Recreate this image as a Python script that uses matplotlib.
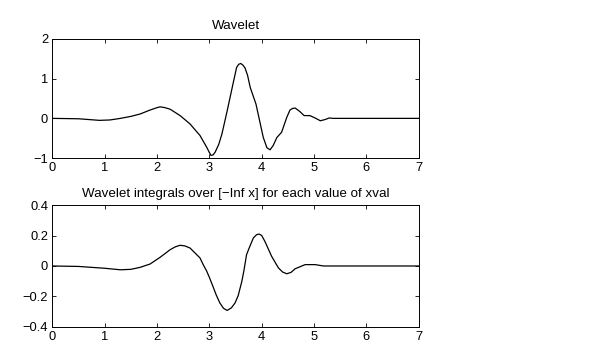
import matplotlib
matplotlib.use("Agg")
from matplotlib import pyplot as plt

# wavelet psi
psi_x = [0.0, 0.5, 0.9, 1.1, 1.3, 1.5, 1.676, 1.867, 2.0, 2.058, 2.15, 2.25, 2.44, 2.63, 2.82,
         2.95, 3.0, 3.03, 3.07, 3.11, 3.18, 3.24, 3.34, 3.45, 3.52, 3.56, 3.60, 3.64, 3.68,
         3.73, 3.78, 3.89, 3.96, 4.03, 4.10, 4.16, 4.22, 4.29, 4.38, 4.48, 4.54, 4.59, 4.64,
         4.73, 4.81, 4.92, 5.02, 5.12, 5.21, 5.29, 5.37, 7.0]
psi_y = [0.0, -0.01, -0.05, -0.04, 0.0, 0.05, 0.11, 0.21, 0.27, 0.29, 0.27, 0.23, 0.07, -0.14, -0.43,
         -0.73, -0.86, -0.93, -0.92, -0.85, -0.65, -0.39, 0.19, 0.86, 1.28, 1.36, 1.38, 1.34, 1.27,
         1.08, 0.78, 0.36, -0.06, -0.48, -0.74, -0.79, -0.68, -0.48, -0.35, 0.03, 0.21, 0.25, 0.26,
         0.17, 0.07, 0.07, 0.01, -0.06, -0.03, 0.01, 0.0, 0.0]

# integral of psi from -inf to x
int_x = [0.0, 0.5, 1.0, 1.3, 1.5, 1.676, 1.867, 2.058, 2.25, 2.35, 2.44, 2.53, 2.63, 2.82, 2.88,
         2.95, 3.0, 3.08, 3.13, 3.20, 3.27, 3.34, 3.42, 3.49, 3.55, 3.62, 3.66, 3.71, 3.76,
         3.84, 3.90, 3.95, 4.0, 4.06, 4.19, 4.32, 4.40, 4.48, 4.56, 4.64, 4.83, 5.02, 5.18, 7.0]
int_y = [0.0, -0.003, -0.015, -0.025, -0.022, -0.009, 0.013, 0.057, 0.107, 0.126, 0.136, 0.132,
         0.118, 0.053, 0.01, -0.035, -0.075, -0.145, -0.19, -0.243, -0.278, -0.292, -0.275, -0.243,
         -0.195, -0.101, -0.03, 0.074, 0.118, 0.184, 0.205, 0.21, 0.2, 0.162, 0.063, -0.013, -0.04,
         -0.051, -0.042, -0.018, 0.009, 0.009, 0.0, 0.0]

x_ticks = [0, 1, 2, 3, 4, 5, 6, 7]
top_yticks = [-1, 0, 1, 2]
top_ylabels = ["\u22121", "0", "1", "2"]
bot_yticks = [-0.4, -0.2, 0, 0.2, 0.4]
bot_ylabels = ["\u22120.4", "\u22120.2", "0", "0.2", "0.4"]

plt.rcParams['font.family'] = ['Liberation Sans', 'DejaVu Sans']
plt.rcParams['font.size'] = 9.3

fig = plt.figure(figsize=(5.99, 3.53), dpi=100)
ax1 = fig.add_axes([0.0875, 0.552, 0.6115, 0.338])
ax2 = fig.add_axes([0.0875, 0.074, 0.6115, 0.345])

def style(ax):
    ax.set_xlim(0, 7)
    ax.set_xticks(x_ticks)
    ax.tick_params(direction='in', length=3, width=0.6, top=True, right=True, pad=3)
    for s in ax.spines.values():
        s.set_linewidth(0.7)

ax1.plot(psi_x, psi_y, color='black', linewidth=0.9)
style(ax1)
ax1.set_ylim(-1, 2)
ax1.set_yticks(top_yticks)
ax1.set_yticklabels(top_ylabels)
ax1.set_title('Wavelet', fontsize=9.6, pad=7)

ax2.plot(int_x, int_y, color='black', linewidth=0.9)
style(ax2)
ax2.set_ylim(-0.4, 0.4)
ax2.set_yticks(bot_yticks)
ax2.set_yticklabels(bot_ylabels)
ax2.set_title('Wavelet integrals over [\u2212Inf x] for each value of xval', fontsize=9.6, pad=6)

fig.savefig('out.png', dpi=100)
plt.close()
